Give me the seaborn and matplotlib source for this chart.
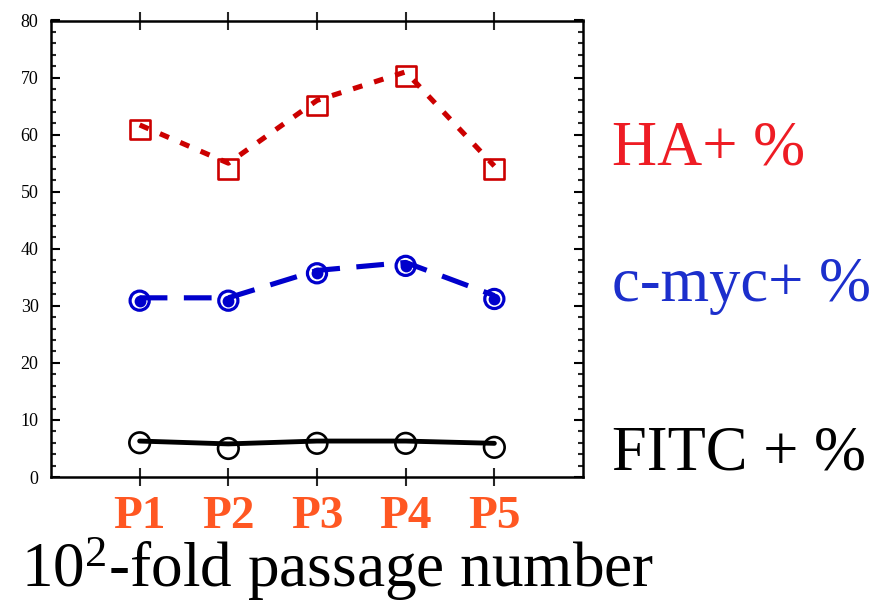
import numpy as np
import pandas as pd
import matplotlib
matplotlib.use("Agg")
import matplotlib.pyplot as plt
import seaborn as sns

# ---- data ----
categories = ["P1", "P2", "P3", "P4", "P5"]
ha_points = [60.9, 53.9, 65.1, 70.3, 53.9]
ha_trend = [61.7, 55.0, 66.0, 71.0, 54.5]
myc_points = [30.9, 30.9, 35.7, 37.0, 31.2]
myc_trend = [31.4, 31.4, 36.2, 37.6, 31.8]
fitc_points = [6.0, 5.0, 5.9, 5.9, 5.2]
fitc_trend = [6.3, 5.8, 6.3, 6.3, 5.9]
yticks = [0, 10, 20, 30, 40, 50, 60, 70, 80]
series_labels = ["HA+ %", "c-myc+ %", "FITC + %"]
xlabel_text = r"$\mathregular{10^{2}}$-fold passage number"

sns.set_theme(style="white")
plt.rcParams["font.family"] = ["Liberation Serif", "DejaVu Serif"]
plt.rcParams["mathtext.fontset"] = "custom"
plt.rcParams["mathtext.rm"] = "Liberation Serif"

pos = np.arange(1, len(categories) + 1)
df = pd.DataFrame({
    "pos": pos,
    "ha_p": ha_points, "ha_t": ha_trend,
    "myc_p": myc_points, "myc_t": myc_trend,
    "fitc_p": fitc_points, "fitc_t": fitc_trend,
})

fig = plt.figure(figsize=(8.73, 6.04), dpi=100)
ax = fig.add_axes([51 / 873, 1 - 477 / 604, 532 / 873, (477 - 20.5) / 604])

red = "#CC0000"
blue = "#0000CC"

# lines
sns.lineplot(data=df, x="pos", y="ha_t", ax=ax, color=red, lw=3.7)
ax.lines[-1].set_dashes((1.9, 2.4))
sns.lineplot(data=df, x="pos", y="myc_t", ax=ax, color=blue, lw=3.7)
ax.lines[-1].set_dashes((5.4, 3.2))
sns.lineplot(data=df, x="pos", y="fitc_t", ax=ax, color="black", lw=3.5)

# markers
sns.scatterplot(data=df, x="pos", y="ha_p", ax=ax, marker="s", s=205,
                facecolor="none", edgecolor=red, linewidth=1.9, zorder=5)
sns.scatterplot(data=df, x="pos", y="myc_p", ax=ax, marker="o", s=190,
                facecolor="none", edgecolor=blue, linewidth=2.3, zorder=5)
sns.scatterplot(data=df, x="pos", y="myc_p", ax=ax, marker="o", s=72,
                color=blue, edgecolor=blue, linewidth=0, zorder=6)
sns.scatterplot(data=df, x="pos", y="fitc_p", ax=ax, marker="o", s=220,
                facecolor="none", edgecolor="black", linewidth=1.9, zorder=5)

ax.set_xlim(0, len(categories) + 1)
ax.set_ylim(0, 80)
ax.set_xticks(pos)
ax.set_xticklabels(categories, fontsize=34, fontweight="bold", color="#FF5722")
ax.set_yticks(yticks)
ax.set_yticklabels([str(v) for v in yticks], fontsize=13)
ax.set_yticks(np.arange(0, 81, 2), minor=True)
ax.set_xlabel("")
ax.set_ylabel("")

for s in ax.spines.values():
    s.set_visible(True)
    s.set_linewidth(1.8)
    s.set_color("black")

ax.tick_params(axis="y", which="major", direction="in", length=6.5, width=1.5,
               left=True, right=True, pad=9, colors="black")
ax.tick_params(axis="y", which="minor", direction="in", length=3.6, width=1.5,
               left=True, right=True)
ax.tick_params(axis="x", which="major", direction="inout", length=13, width=1.5,
               bottom=True, top=True, pad=7)
ax.tick_params(axis="y", labelcolor="black")

# right-hand series labels
fig.text(612 / 873, 1 - 164 / 604, series_labels[0], fontsize=45, color="#EE1C24",
         ha="left", va="baseline")
fig.text(612 / 873, 1 - 301 / 604, series_labels[1], fontsize=45, color="#1C2FCC",
         ha="left", va="baseline")
fig.text(612 / 873, 1 - 469 / 604, series_labels[2], fontsize=45, color="black",
         ha="left", va="baseline")

fig.text(21 / 873, 1 - 587 / 604, xlabel_text, fontsize=45.5, color="black",
         ha="left", va="baseline")

fig.savefig("out.png", dpi=100)
